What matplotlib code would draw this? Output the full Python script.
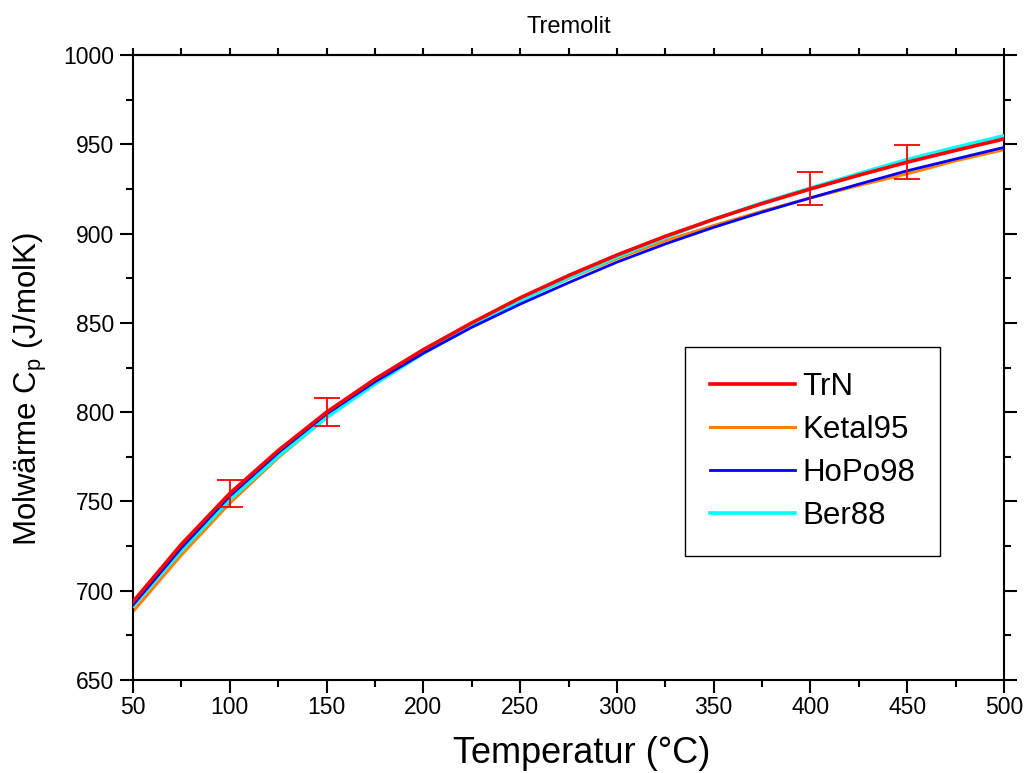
import matplotlib
matplotlib.use("Agg")
import matplotlib.pyplot as plt
from matplotlib.ticker import MultipleLocator

plt.rcParams["font.family"] = ["Liberation Sans", "DejaVu Sans"]
plt.rcParams["mathtext.fontset"] = "custom"
plt.rcParams["mathtext.rm"] = "Liberation Sans"

# values, step 25 °C
temp = [50, 75, 100, 125, 150, 175, 200, 225, 250, 275,
        300, 325, 350, 375, 400, 425, 450, 475, 500]

trn = [693.8, 726.0, 754.5, 778.5, 800.0, 818.5, 835.0, 850.0, 864.0, 876.5,
       888.0, 898.5, 908.0, 916.8, 925.0, 932.7, 940.0, 946.6, 953.0]
ketal95 = [688.3, 720.0, 749.0, 774.5, 797.0, 816.5, 833.5, 848.5, 862.5, 874.8,
           886.0, 896.0, 904.5, 912.5, 920.0, 927.0, 933.5, 940.8, 947.0]
hopo98 = [692.0, 724.0, 753.0, 777.3, 799.0, 817.0, 833.0, 847.5, 860.5, 872.5,
          884.0, 894.2, 903.5, 912.0, 920.0, 927.7, 935.2, 941.8, 948.3]
ber88 = [691.4, 722.5, 751.0, 775.3, 797.0, 815.8, 833.0, 848.3, 862.5, 875.2,
         887.0, 897.8, 908.0, 917.2, 925.5, 933.6, 941.5, 948.3, 954.8]

err_t = [100, 150, 400, 450]
err_cp = [754.5, 800.0, 925.0, 940.0]
err_pct = 0.01

fig = plt.figure(figsize=(10.26, 7.73), dpi=100)
ax = fig.add_axes([0.1296, 0.1203, 0.8490, 0.8085])

ax.plot(temp, ketal95, color="#ff8000", lw=2.2, label="Ketal95", zorder=2)
ax.plot(temp, ber88, color="#00ffff", lw=2.6, label="Ber88", zorder=3)
ax.plot(temp, hopo98, color="#0000ff", lw=2.0, label="HoPo98", zorder=4)
ax.plot(temp, trn, color="#ff0000", lw=2.6, label="TrN", zorder=5)
ax.errorbar(err_t, err_cp, yerr=[c * err_pct for c in err_cp], fmt="none",
            ecolor="#ff0000", elinewidth=1.3, capsize=9.5, capthick=1.3, zorder=6)

ax.set_xlim(50, 500)
ax.set_ylim(650, 1000)
ax.xaxis.set_major_locator(MultipleLocator(50))
ax.xaxis.set_minor_locator(MultipleLocator(25))
ax.yaxis.set_major_locator(MultipleLocator(50))
ax.yaxis.set_minor_locator(MultipleLocator(25))

for s in ax.spines.values():
    s.set_linewidth(1.5)

ax.tick_params(which="both", direction="out", width=1.5, labelsize=16.5,
               top=False, right=True, labelright=False)
ax.tick_params(which="major", length=9.5)
ax.tick_params(which="minor", length=5)
ax.tick_params(axis="x", pad=2)
ax.tick_params(axis="y", pad=4)

top = ax.secondary_xaxis("top")
top.set_xticks(range(50, 501, 25))
top.tick_params(direction="out", length=5, width=1.5, labeltop=False)
top.spines["top"].set_linewidth(1.5)

ax.set_title("Tremolit", fontsize=17, pad=16)
ax.set_xlabel("Temperatur (°C)", fontsize=26)
ax.xaxis.set_label_coords(0.5155, -0.089)
ax.set_ylabel("Molwärme C$_\\mathregular{p}$ (J/molK)", fontsize=22.5)
ax.yaxis.set_label_coords(-0.096, 0.466)

handles, labels = ax.get_legend_handles_labels()
order = ["TrN", "Ketal95", "HoPo98", "Ber88"]
hmap = dict(zip(labels, handles))
leg = ax.legend([hmap[k] for k in order], order, loc="upper left",
                bbox_to_anchor=(0.634, 0.5328), borderaxespad=0, fontsize=22.5,
                fancybox=False, framealpha=1, edgecolor="black",
                handlelength=2.7, handletextpad=0.25, labelspacing=0.42,
                borderpad=0.8)
leg.get_frame().set_linewidth(1.0)

fig.savefig("out.png", dpi=100)
